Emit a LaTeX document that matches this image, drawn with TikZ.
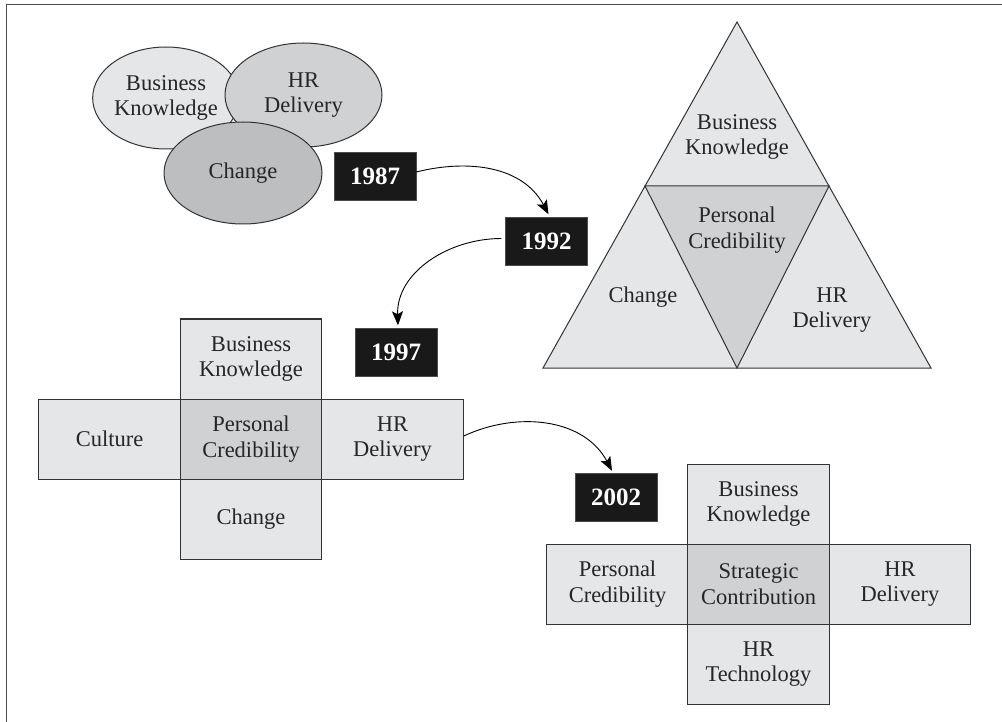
\documentclass[tikz,border=0pt]{standalone}
\usepackage{fontspec}
\setmainfont{Liberation Serif}
\usetikzlibrary{shapes.geometric,arrows.meta}
\definecolor{lightf}{HTML}{E5E6E7}
\definecolor{midf}{HTML}{D0D1D2}
\definecolor{darkf}{HTML}{BDBEC0}
\definecolor{edge}{HTML}{333333}
\tikzset{
  lbl/.style={align=center,font=\fontsize{22.5}{25.5}\selectfont,text=black!85},
  ell/.style={ellipse,draw=edge,line width=1pt,inner sep=0pt,lbl},
  yearbox/.style={fill=black!90,draw=black!70,text=white,minimum width=82pt,minimum height=48pt,inner sep=0pt,font=\fontsize{25}{28}\selectfont\bfseries},
  cbox/.style={draw=edge,line width=1pt,fill=lightf,minimum width=141.5pt,minimum height=80pt,inner sep=0pt,lbl},
  cmid/.style={cbox,fill=midf},
  conn/.style={line width=0.9pt,-{Stealth[length=14pt,width=11pt,inset=3pt]}},
}
\begin{document}
\begin{tikzpicture}[x=1pt,y=-1pt]
\useasboundingbox (0,0) rectangle (1002,722);
% frame
\draw[line width=1.6pt,black!70] (6.5,722) -- (6.5,4.5) -- (1002,4.5);

% ellipses (1987)
\node[ell,fill=lightf,minimum width=138pt,minimum height=102pt] (e1) at (166,98) {Business\\Knowledge};
\node[ell,fill=midf,minimum width=157pt,minimum height=104pt] (e2) at (303.5,95) {HR\\Delivery};
\node[ell,fill=darkf,minimum width=158pt,minimum height=102pt] (e3) at (243,173) {Change};

% triangle (1992)
\filldraw[fill=lightf,draw=edge,line width=1pt] (737,22) -- (931,368) -- (543,368) -- cycle;
\filldraw[fill=midf,draw=edge,line width=1pt] (645,186) -- (829,186) -- (737,368) -- cycle;
\node[lbl] (t1) at (737,137) {Business\\Knowledge};
\node[lbl] (t2) at (737,230) {Personal\\Credibility};
\node[lbl] (t3) at (643,297) {Change};
\node[lbl] (t4) at (832,310) {HR\\Delivery};

% cross 1997
\node[cbox] (a1) at (251,359) {Business\\Knowledge};
\node[cbox] (a2) at (109.5,439) {Culture};
\node[cmid] (a3) at (251,439) {Personal\\Credibility};
\node[cbox] (a4) at (392.5,439) {HR\\Delivery};
\node[cbox] (a5) at (251,519) {Change};

% cross 2002
\node[cbox] (b1) at (758.5,504) {Business\\Knowledge};
\node[cbox] (b2) at (617.5,584) {Personal\\Credibility};
\node[cmid] (b3) at (758.5,584) {Strategic\\Contribution};
\node[cbox] (b4) at (900,584) {HR\\Delivery};
\node[cbox] (b5) at (758.5,664) {HR\\Technology};

% years
\node[yearbox] (y87) at (375,176) {1987};
\node[yearbox] (y92) at (546.5,241.5) {1992};
\node[yearbox] (y97) at (396,352.5) {1997};
\node[yearbox] (y02) at (616,497) {2002};

% connectors
\draw[conn] ([yshift=4pt]y87.east) to[out=14,in=118] ([xshift=2pt,yshift=3pt]y92.north);
\draw[conn] ([xshift=-4pt,yshift=3pt]y92.west) to[out=180,in=92] ([xshift=2pt,yshift=3pt]y97.north);
\draw[conn] ([yshift=3pt]a4.east) to[out=25,in=118] ([xshift=-4pt,yshift=2pt]y02.north);
\end{tikzpicture}
\end{document}
